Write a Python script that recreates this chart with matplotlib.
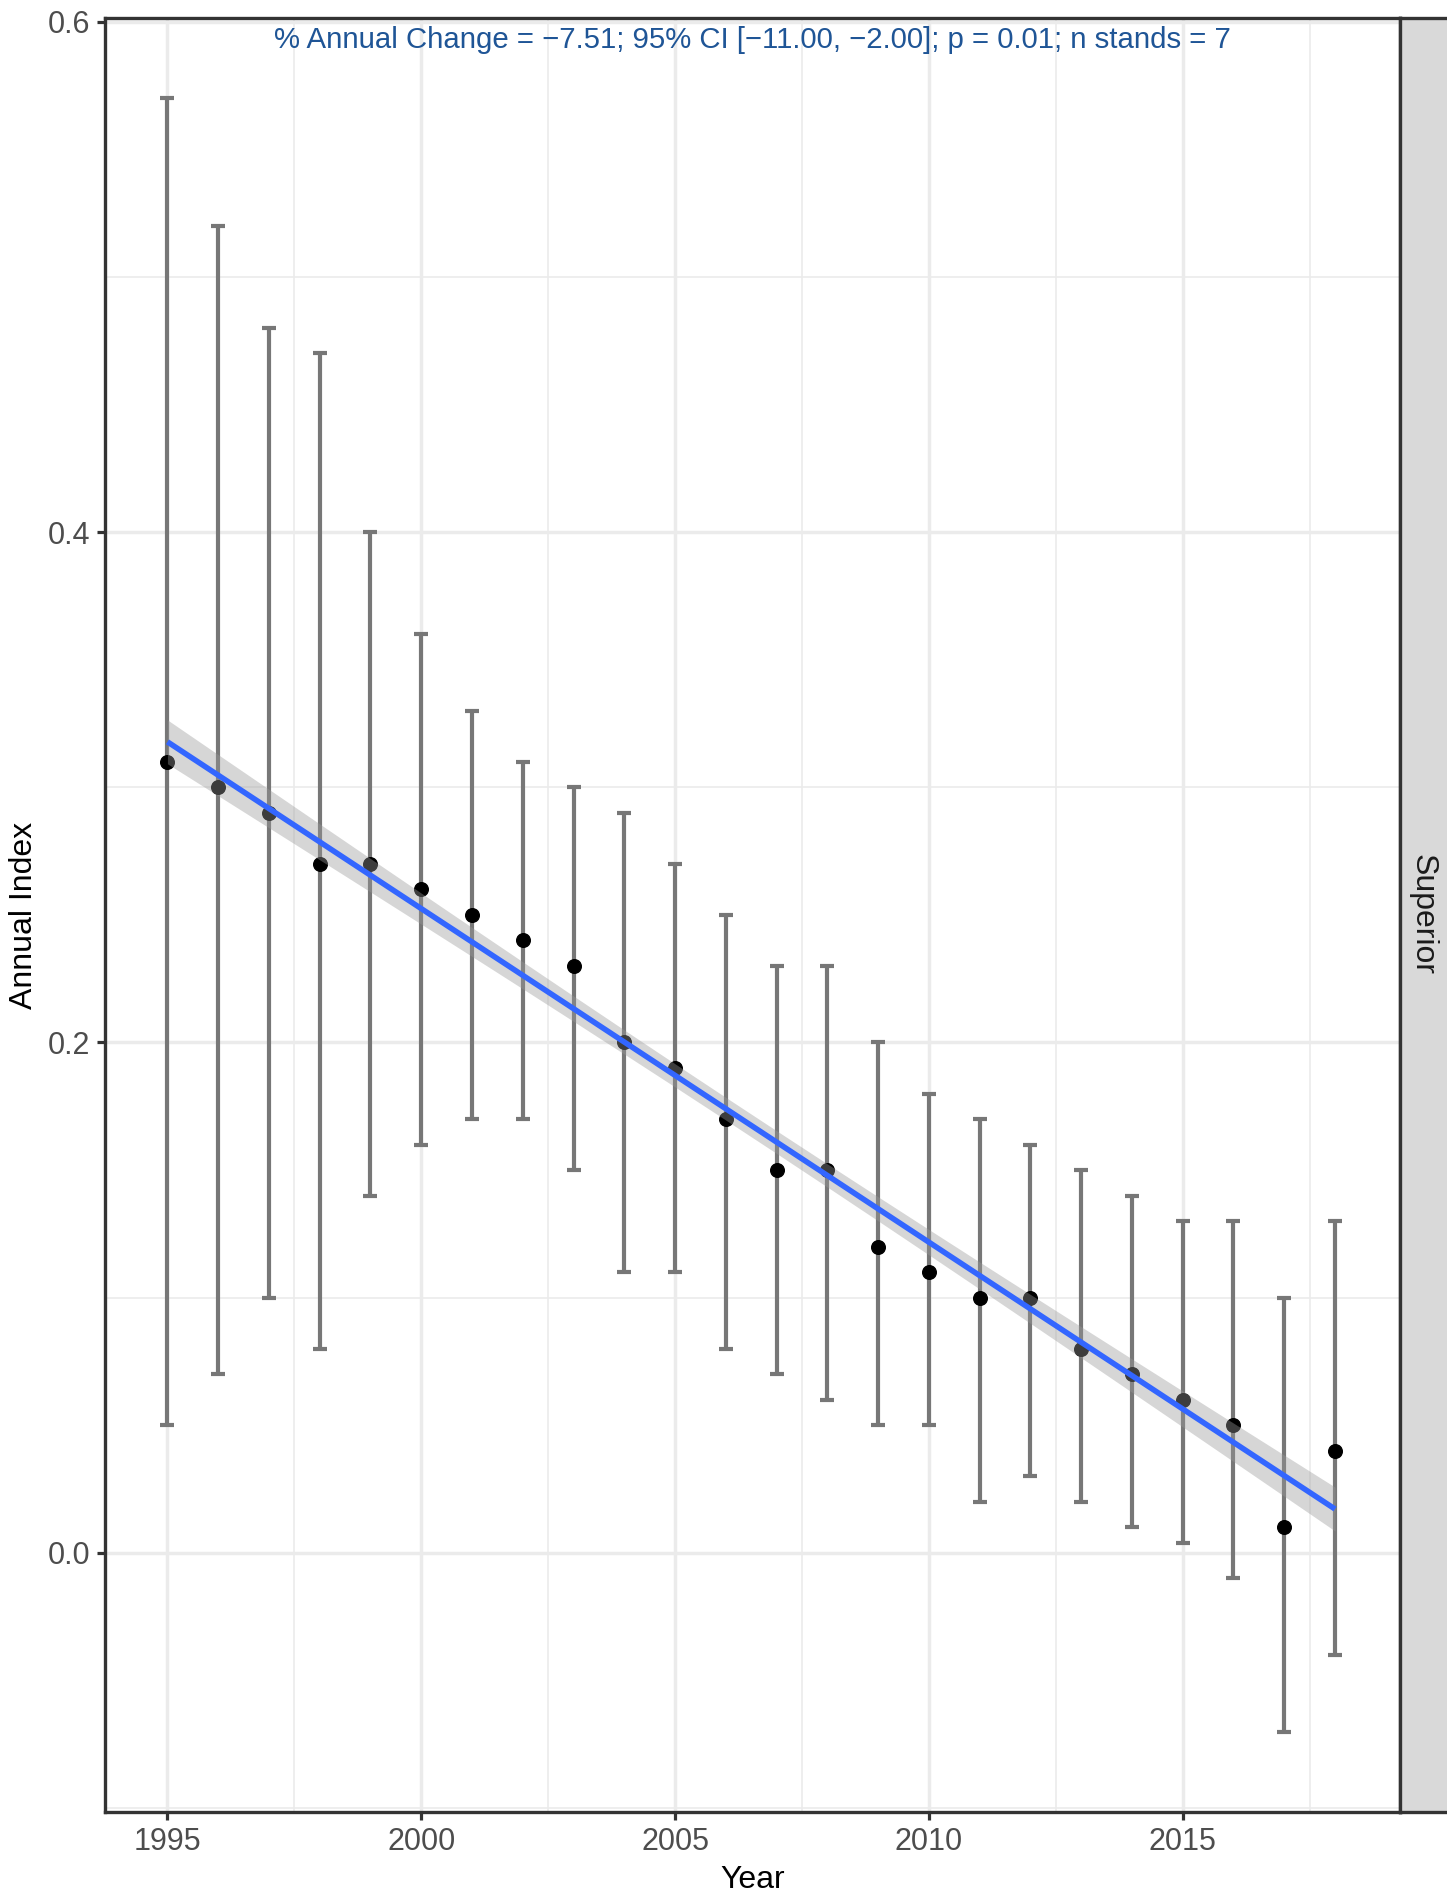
import numpy as np
import matplotlib
matplotlib.use("Agg")
import matplotlib.pyplot as plt
from matplotlib.ticker import MultipleLocator

plt.rcParams['font.family'] = ['Liberation Sans', 'DejaVu Sans']

# Annual index per year with 95% interval bounds
years = np.arange(1995, 2019)
index = [0.31, 0.30, 0.29, 0.27, 0.27, 0.26, 0.25, 0.24, 0.23, 0.20, 0.19, 0.17,
         0.15, 0.15, 0.12, 0.11, 0.10, 0.10, 0.08, 0.07, 0.06, 0.05, 0.01, 0.04]
lower = [0.05, 0.07, 0.10, 0.08, 0.14, 0.16, 0.17, 0.17, 0.15, 0.11, 0.11, 0.08,
         0.07, 0.06, 0.05, 0.05, 0.02, 0.03, 0.02, 0.01, 0.004, -0.01, -0.07, -0.04]
upper = [0.57, 0.52, 0.48, 0.47, 0.40, 0.36, 0.33, 0.31, 0.30, 0.29, 0.27, 0.25,
         0.23, 0.23, 0.20, 0.18, 0.17, 0.16, 0.15, 0.14, 0.13, 0.13, 0.10, 0.13]
panel_label = "Superior"
stats_text = ("% Annual Change = \u22127.51; 95% CI [\u221211.00, \u22122.00]; "
              "p = 0.01; n stands = 7")

index = np.array(index)
lower = np.array(lower)
upper = np.array(upper)

# linear fit with 95% confidence band (t, df = n - 2)
slope, intercept = np.polyfit(years, index, 1)
fit = intercept + slope * years
resid = index - fit
n = len(years)
s = np.sqrt(np.sum(resid ** 2) / (n - 2))
sxx = np.sum((years - years.mean()) ** 2)
se = s * np.sqrt(1 / n + (years - years.mean()) ** 2 / sxx)
t_crit = 2.074
band_lo = fit - t_crit * se
band_hi = fit + t_crit * se

W, H = 1447, 1893
fig = plt.figure(figsize=(W / 100, H / 100), dpi=100)
left, right, top, bottom = 105, 1400, 18, 1812
ax = fig.add_axes([left / W, 1 - bottom / H, (right - left) / W, (bottom - top) / H])

ax.errorbar(years, index, yerr=[index - lower, upper - index], fmt='none',
            ecolor='#777777', elinewidth=3.0, capsize=5, capthick=3.0, zorder=2)
ax.plot(years, index, 'o', color='black', ms=9.8, zorder=3)
ax.fill_between(years, band_lo, band_hi, color='#999999', alpha=0.4, lw=0, zorder=4)
ax.plot(years, fit, color='#3366FF', lw=4.0, zorder=5, solid_capstyle='butt')

ax.set_xlim(1993.77, 2019.28)
ax.set_ylim(-0.1015, 0.6014)
ax.xaxis.set_major_locator(MultipleLocator(5))
ax.xaxis.set_minor_locator(MultipleLocator(2.5))
ax.yaxis.set_major_locator(MultipleLocator(0.2))
ax.yaxis.set_minor_locator(MultipleLocator(0.1))
ax.yaxis.set_major_formatter(plt.FuncFormatter(lambda v, p: f"{v:.1f}"))
ax.grid(which='major', color='#ebebeb', lw=2.5, zorder=0)
ax.grid(which='minor', color='#ebebeb', lw=1.2, zorder=0)
ax.set_axisbelow(True)

ax.tick_params(which='major', length=5.5, width=2.3, color='#333333',
               labelsize=22, labelcolor='#4d4d4d', pad=5)
ax.tick_params(which='minor', length=0)
for sp in ax.spines.values():
    sp.set_color('#333333')
    sp.set_linewidth(2.4)

ax.set_xlabel("Year", fontsize=23, color='black', labelpad=6)
ax.set_ylabel("Annual Index", fontsize=23, color='black', labelpad=6)

ax.text(0.5, 0.988, stats_text, transform=ax.transAxes, ha='center', va='center',
        fontsize=21.2, color='#1f5596')

# facet strip on the right
sax = fig.add_axes([right / W, 1 - bottom / H, 80 / W, (bottom - top) / H])
sax.set_facecolor('#d9d9d9')
sax.set_xticks([])
sax.set_yticks([])
for sp in sax.spines.values():
    sp.set_color('#333333')
    sp.set_linewidth(2.4)
sax.text((1423 - right) / 80, 0.5, panel_label, transform=sax.transAxes,
         rotation=-90, ha='center', va='center', fontsize=23, color='#1a1a1a')

fig.savefig("out.png", dpi=100)
